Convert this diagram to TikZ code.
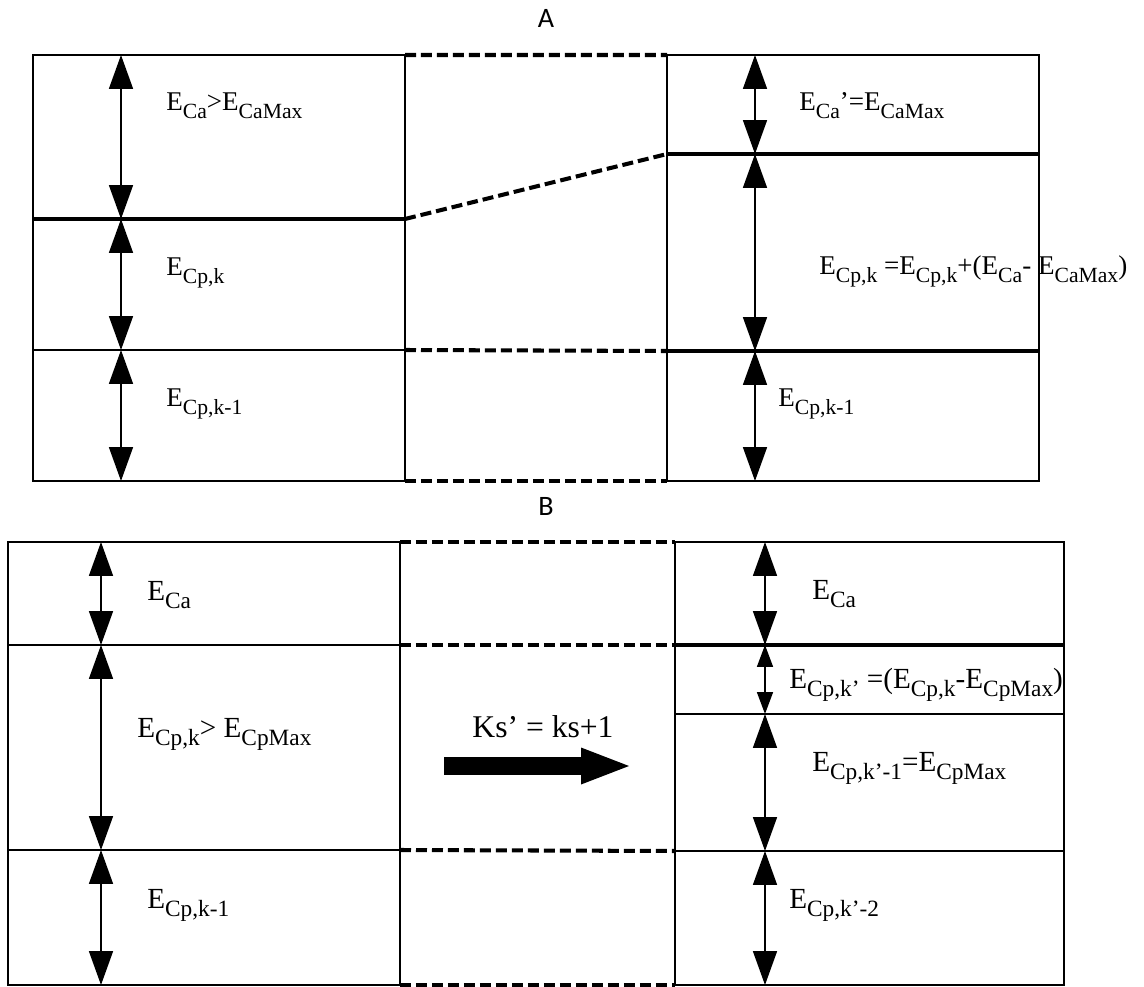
\documentclass[tikz,border=0pt]{standalone}
\usepackage{fontspec}
\setmainfont{Liberation Serif}
\newfontfamily\panelfont{Carlito}
\usetikzlibrary{arrows.meta, fit}
\newcommand{\lo}[1]{\raisebox{-0.3em}{\scalebox{0.8}{#1}}}

\begin{document}
\begin{tikzpicture}[
  x=0.02cm, y=-0.02cm,
  font=\fontsize{15.4}{18}\selectfont,
  band/.style={draw, line width=1.6pt, inner sep=0pt, outer sep=0pt},
  cutline/.style={line width=2.3pt},
  dashlink/.style={line width=2.3pt, dash pattern=on 0.22cm off 0.1cm},
  dimarr/.style={<->, >={Triangle[length=0.68cm, width=0.48cm]}, line width=1pt},
  dimsmall/.style={<->, >={Triangle[length=0.44cm, width=0.32cm]}, line width=1pt},
  bigarr/.style={-{Triangle[length=0.96cm, width=0.74cm, line width=0pt]}, line width=0.36cm},
  lab/.style={anchor=base west, inner sep=0pt},
  labB/.style={lab, font=\fontsize{16.6}{19}\selectfont},
  panel/.style={font=\panelfont\fontsize{16}{18}\selectfont}
]
  \useasboundingbox (0,0) rectangle (1144,987);

  % panel A
  \node[panel] (titA) at (546,18) {A};
  \node[band, fit={(33,55) (405,219)}] (aL1) {};
  \node[band, fit={(33,219) (405,350)}] (aL2) {};
  \node[band, fit={(33,350) (405,481)}] (aL3) {};
  \node[band, fit={(667,55) (1039,154)}] (aR1) {};
  \node[band, fit={(667,154) (1039,351)}] (aR2) {};
  \node[band, fit={(667,351) (1039,481)}] (aR3) {};
  \draw[cutline] (aL1.south west) -- (aL1.south east);
  \draw[cutline] (aR1.south west) -- (aR1.south east);
  \draw[cutline] (aR2.south west) -- (aR2.south east);
  \coordinate (aLx) at (121,0);
  \coordinate (aRx) at (755,0);
  \foreach \b in {aL1,aL2,aL3}
    \draw[dimarr] (aLx |- \b.north) -- (aLx |- \b.south);
  \foreach \b in {aR1,aR2,aR3}
    \draw[dimarr] (aRx |- \b.north) -- (aRx |- \b.south);
  \draw[dashlink] (aL1.north east) -- (aR1.north west);
  \draw[dashlink] (aL1.south east) -- (aR1.south west);
  \draw[dashlink] (aL3.north east) -- (aR3.north west);
  \draw[dashlink] (aL3.south east) -- (aR3.south west);
  \node[lab] (aL1t) at (166,110) {E\lo{Ca}>E\lo{CaMax}};
  \node[lab] (aL2t) at (166,275) {E\lo{Cp,k}};
  \node[lab] (aL3t) at (166,406) {E\lo{Cp,k-1}};
  \node[lab] (aR1t) at (799,110) {E\lo{Ca}’=E\lo{CaMax}};
  \node[lab] (aR2t) at (819,274) {E\lo{Cp,k} =E\lo{Cp,k}+(E\lo{Ca}- E\lo{CaMax})};
  \node[lab] (aR3t) at (778,406) {E\lo{Cp,k-1}};

  % panel B
  \node[panel] (titB) at (546,506) {B};
  \node[band, fit={(8,542) (400,645)}] (bL1) {};
  \node[band, fit={(8,645) (400,850)}] (bL2) {};
  \node[band, fit={(8,850) (400,985)}] (bL3) {};
  \node[band, fit={(675,542) (1064,645)}] (bR1) {};
  \node[band, fit={(675,645) (1064,714)}] (bR2) {};
  \node[band, fit={(675,714) (1064,851)}] (bR3) {};
  \node[band, fit={(675,851) (1064,985)}] (bR4) {};
  \draw[cutline] (bR1.south west) -- (bR1.south east);
  \coordinate (bLx) at (101,0);
  \coordinate (bRx) at (765,0);
  \foreach \b in {bL1,bL2,bL3}
    \draw[dimarr] (bLx |- \b.north) -- (bLx |- \b.south);
  \foreach \b in {bR1,bR3,bR4}
    \draw[dimarr] (bRx |- \b.north) -- (bRx |- \b.south);
  \draw[dimsmall] (bRx |- bR2.north) -- (bRx |- bR2.south);
  \draw[dashlink] (bL1.north east) -- (bR1.north west);
  \draw[dashlink] (bL1.south east) -- (bR1.south west);
  \draw[dashlink] (bL3.north east) -- (bR4.north west);
  \draw[dashlink] (bL3.south east) -- (bR4.south west);
  \node[labB] (bL1t) at (147,600) {E\lo{Ca}};
  \node[labB] (bL2t) at (137,737) {E\lo{Cp,k}> E\lo{CpMax}};
  \node[labB] (bL3t) at (147,908) {E\lo{Cp,k-1}};
  \node[labB] (bR1t) at (812,599) {E\lo{Ca}};
  \node[labB] (bR2t) at (789,688) {E\lo{Cp,k’} =(E\lo{Cp,k}-E\lo{CpMax})};
  \node[labB] (bR3t) at (812,771) {E\lo{Cp,k’-1}=E\lo{CpMax}};
  \node[labB] (bR4t) at (789,908) {E\lo{Cp,k’-2}};
  \coordinate (ksA) at (444,766);
  \coordinate (ksB) at (629,766);
  \draw[bigarr] (ksA) -- (ksB);
  \node[anchor=base, inner sep=0pt, font=\fontsize{18}{20}\selectfont] (kstxt) at (543,737) {Ks’ = ks+1};
\end{tikzpicture}
\end{document}
